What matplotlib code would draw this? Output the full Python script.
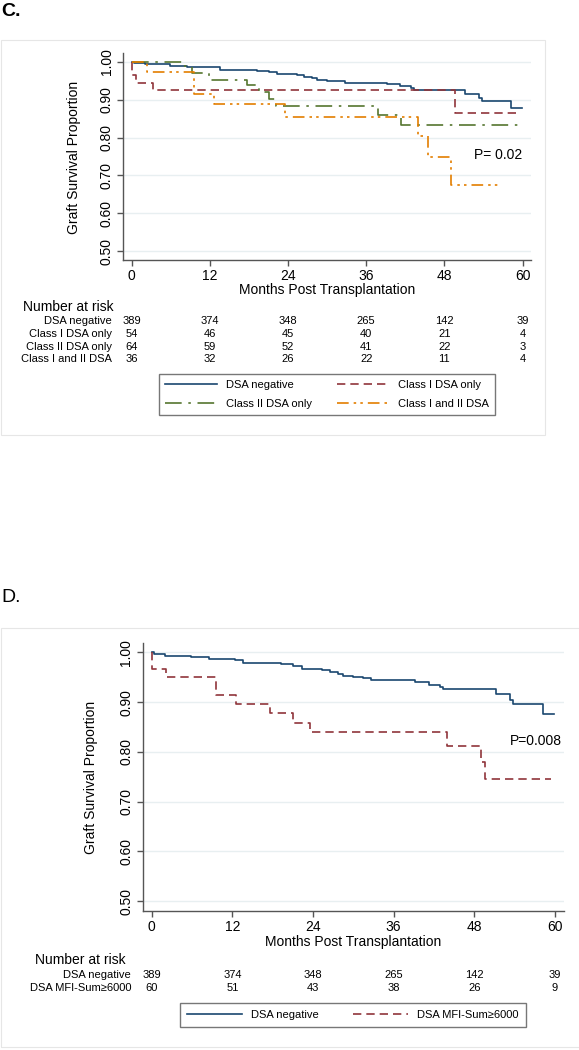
import matplotlib
matplotlib.use("Agg")
import matplotlib.pyplot as plt
import matplotlib.transforms as mtransforms
from matplotlib.lines import Line2D
from matplotlib.patches import Rectangle

plt.rcParams['font.family'] = ['Liberation Sans', 'DejaVu Sans']

# ---- data ----
risk_months = [0, 12, 24, 36, 48, 60]

# DSA negative (same curve in both panels)
neg_t = [0, 0.3, 2.0, 5.9, 8.5, 12.4, 13.6, 19.3, 21.0, 22.3, 25.3, 26.5, 27.7, 28.5,
         30.0, 31.5, 32.7, 39.2, 41.2, 42.9, 43.3, 51.2, 53.3, 53.8, 58.2, 59.9]
neg_s = [1.0, 0.996, 0.993, 0.990, 0.987, 0.985, 0.979, 0.976, 0.972, 0.967, 0.964, 0.961,
         0.957, 0.953, 0.950, 0.948, 0.945, 0.941, 0.935, 0.930, 0.926, 0.916, 0.905, 0.896,
         0.877, 0.877]

# panel C
c1_t = [0, 0.1, 0.6, 3.3, 49.7, 59.5]
c1_s = [1.0, 0.965, 0.945, 0.926, 0.864, 0.864]
c2_t = [0, 7.7, 8.5, 9.2, 11.8, 17.7, 19.5, 21.0, 22.1, 37.8, 41.4, 59.9]
c2_s = [1.0, 0.990, 0.985, 0.969, 0.952, 0.938, 0.920, 0.901, 0.884, 0.860, 0.833, 0.833]
c12_t = [0, 2.3, 9.6, 12.6, 23.6, 43.9, 45.5, 49.0, 56.6]
c12_s = [1.0, 0.972, 0.915, 0.888, 0.854, 0.803, 0.750, 0.674, 0.674]

# panel D
mfi_t = [0, 0.1, 2.2, 9.6, 12.6, 17.6, 21.0, 23.5, 43.9, 49.0, 49.6, 59.4]
mfi_s = [1.0, 0.967, 0.950, 0.915, 0.897, 0.878, 0.859, 0.839, 0.812, 0.779, 0.746, 0.746]

risk_c_labels = ['DSA negative', 'Class I DSA only', 'Class II DSA only', 'Class I and II DSA']
risk_c = [[389, 374, 348, 265, 142, 39],
          [54, 46, 45, 40, 21, 4],
          [64, 59, 52, 41, 22, 3],
          [36, 32, 26, 22, 11, 4]]
risk_d_labels = ['DSA negative', 'DSA MFI-Sum\u22656000']
risk_d = [[389, 374, 348, 265, 142, 39],
          [60, 51, 43, 38, 26, 9]]

yticks = [0.5, 0.6, 0.7, 0.8, 0.9, 1.0]

# ---- styles ----
NAVY = '#1a476f'
MAROON = '#90353b'
GREEN = '#55752f'
ORANGE = '#e37e00'
GRID = '#e8eff1'
AXC = '#555555'

W, H = 579, 1050
fig = plt.figure(figsize=(W / 100, H / 100), dpi=100)


def fx(x):
    return x / W


def fy(y):
    return 1 - y / H


def make_axes(left, right, top, bottom, xlim, ylim):
    ax = fig.add_axes([fx(left), fy(bottom), fx(right - left), (bottom - top) / H])
    ax.set_xlim(*xlim)
    ax.set_ylim(*ylim)
    for s in ['top', 'right']:
        ax.spines[s].set_visible(False)
    for s in ['left', 'bottom']:
        ax.spines[s].set_color(AXC)
        ax.spines[s].set_linewidth(1.0)
    ax.set_xticks(risk_months)
    ax.set_yticks(yticks)
    ax.set_yticklabels(['%.2f' % v for v in yticks])
    ax.tick_params(axis='both', direction='out', length=4, width=1, color=AXC,
                   labelsize=10, pad=2.5)
    for lab in ax.get_yticklabels():
        lab.set_rotation(90)
        lab.set_va('center')
    ax.yaxis.grid(True, color=GRID, lw=1)
    ax.set_axisbelow(True)
    ax.patch.set_alpha(0)
    return ax


def risk_table(ax, labels, rows, head_x, head_y, lab_x, row_y):
    tr = mtransforms.blended_transform_factory(ax.transData, fig.transFigure)
    fig.text(fx(head_x), fy(head_y), 'Number at risk', fontsize=10, ha='left', va='center')
    for lab, vals, y in zip(labels, rows, row_y):
        fig.text(fx(lab_x), fy(y), lab, fontsize=8, ha='right', va='center')
        for m, v in zip(risk_months, vals):
            ax.text(m, fy(y), str(v), transform=tr, fontsize=8, ha='center', va='center',
                    clip_on=False)


# panel frames
fig.add_artist(Rectangle((fx(1), fy(435)), fx(544), (435 - 40) / H, transform=fig.transFigure,
                         fill=False, edgecolor='#e6e6e6', lw=0.8))
fig.add_artist(Rectangle((fx(1), fy(1047)), fx(620), (1047 - 628) / H, transform=fig.transFigure,
                         fill=False, edgecolor='#e6e6e6', lw=0.8))

# ================= panel C =================
fig.text(fx(1), fy(11), 'C.', fontsize=14, fontweight='bold', ha='left', va='center')
axc = make_axes(123, 531, 53, 260, (-1.34, 61.3), (0.477, 1.023))
l_neg, = axc.plot(neg_t, neg_s, drawstyle='steps-post', color=NAVY, lw=1.2)
l_c1, = axc.plot(c1_t, c1_s, drawstyle='steps-post', color=MAROON, lw=1.2, dashes=(5, 3))
l_c2, = axc.plot(c2_t, c2_s, drawstyle='steps-post', color=GREEN, lw=1.2, dashes=(10, 4, 1.5, 4))
l_c12, = axc.plot(c12_t, c12_s, drawstyle='steps-post', color=ORANGE, lw=1.2,
                  dashes=(7, 3, 1.5, 2.5, 1.5, 3))
axc.text(60, 0.754, 'P= 0.02', fontsize=10, ha='right', va='center')
fig.text(fx(327), fy(290), 'Months Post Transplantation', fontsize=10, ha='center', va='center')
fig.text(fx(74), fy(157), 'Graft Survival Proportion', fontsize=10, ha='center', va='center',
         rotation=90)
risk_table(axc, risk_c_labels, risk_c, 23, 307, 112, [321, 334, 347, 359])

legc = fig.legend([l_neg, l_c2, l_c1, l_c12],
                  ['DSA negative', 'Class II DSA only', 'Class I DSA only', 'Class I and II DSA'],
                  loc='center', bbox_to_anchor=(fx(159), fy(417), fx(336), 45 / H),
                  mode='expand', ncol=2, fontsize=8, frameon=True, fancybox=False,
                  handlelength=4.7, handletextpad=0.8, borderpad=0.55, labelspacing=0.75,
                  borderaxespad=0)
legc.get_frame().set_edgecolor(AXC)
legc.get_frame().set_linewidth(1.0)

# ================= panel D =================
fig.text(fx(1), fy(598), 'D.', fontsize=14, ha='left', va='center')
axd = make_axes(142.5, 564, 643, 911, (-1.37, 61.35), (0.4805, 1.0187))
d_neg, = axd.plot(neg_t, neg_s, drawstyle='steps-post', color=NAVY, lw=1.2)
d_mfi, = axd.plot(mfi_t, mfi_s, drawstyle='steps-post', color=MAROON, lw=1.2, dashes=(5, 3))
axd.text(61.0, 0.822, 'P=0.008', fontsize=10, ha='right', va='center')
fig.text(fx(353), fy(942), 'Months Post Transplantation', fontsize=10, ha='center', va='center')
fig.text(fx(91), fy(777), 'Graft Survival Proportion', fontsize=10, ha='center', va='center',
         rotation=90)
risk_table(axd, risk_d_labels, risk_d, 35, 960, 131, [975, 988])

legd = fig.legend([d_neg, d_mfi], ['DSA negative', 'DSA MFI-Sum\u22656000'],
                  loc='center', bbox_to_anchor=(fx(179.5), fy(1029), fx(346.5), 28 / H),
                  mode='expand', ncol=2, fontsize=8, frameon=True, fancybox=False,
                  handlelength=5.0, handletextpad=0.8, borderpad=0.65, borderaxespad=0)
legd.get_frame().set_edgecolor(AXC)
legd.get_frame().set_linewidth(1.0)

fig.savefig('out.png', dpi=100)
